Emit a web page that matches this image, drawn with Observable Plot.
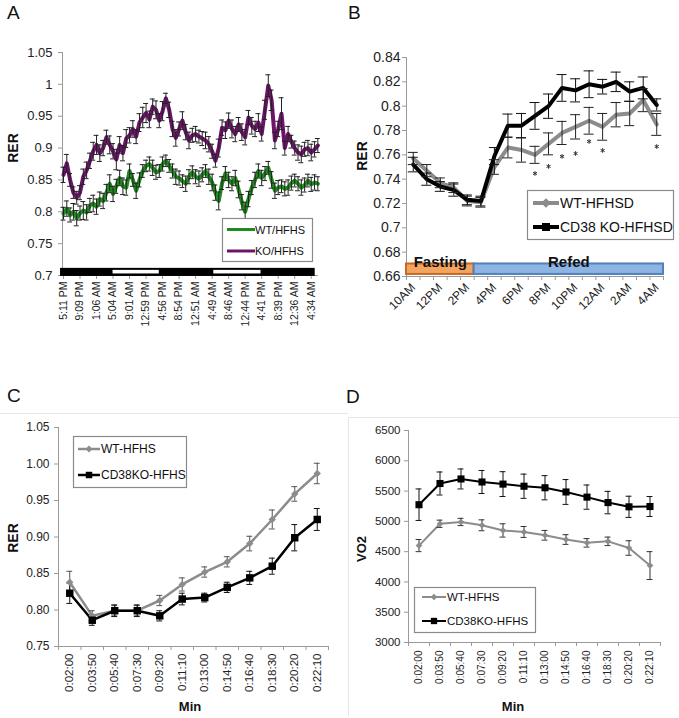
<!DOCTYPE html>
<html><head><meta charset="utf-8">
<script src="https://cdn.jsdelivr.net/npm/d3@7"></script>
<script src="https://cdn.jsdelivr.net/npm/@observablehq/plot@0.6"></script>
<style>
body{margin:0;background:#fff;}
#root{position:relative;width:679px;height:718px;overflow:hidden;background:#fff;}
</style></head>
<body><div id="root"></div>
<script>
// ---------- Panel A data ----------
const aXTickIdx = [0,5,10,15,20,25,30,35,40,45,50,55,60,65,70,75];
const aXLabels = ["5:11 PM","9:09 PM","1:06 AM","5:04 AM","9:01 AM","12:59 PM","4:56 PM","8:54 PM","12:51 AM","4:49 AM","8:46 AM","12:44 PM","4:41 PM","8:39 PM","12:36 AM","4:34 AM"];
const aYTicks = [0.7,0.75,0.8,0.85,0.9,0.95,1,1.05];
const aWT = [
0.797,0.805,0.795,0.8,0.79,0.798,0.802,0.799,0.81,0.813,
0.808,0.82,0.817,0.83,0.844,0.828,0.84,0.853,0.84,0.838,
0.864,0.85,0.833,0.85,0.864,0.872,0.875,0.869,0.862,0.864,
0.875,0.88,0.872,0.864,0.855,0.853,0.848,0.844,0.855,0.862,
0.855,0.852,0.858,0.864,0.855,0.846,0.83,0.817,0.845,0.86,
0.85,0.844,0.853,0.835,0.815,0.8,0.82,0.838,0.85,0.864,
0.853,0.86,0.869,0.85,0.833,0.838,0.84,0.836,0.838,0.845,
0.849,0.844,0.838,0.842,0.849,0.843,0.846,0.844];
const aWTerr = [
0.01,0.012,0.011,0.013,0.012,0.011,0.014,0.012,0.011,0.013,
0.012,0.011,0.012,0.013,0.014,0.012,0.011,0.012,0.013,0.012,
0.011,0.01,0.012,0.011,0.01,0.009,0.011,0.012,0.011,0.01,
0.011,0.009,0.01,0.011,0.012,0.011,0.01,0.012,0.011,0.01,
0.011,0.012,0.011,0.01,0.012,0.013,0.012,0.014,0.01,0.011,
0.012,0.011,0.012,0.013,0.012,0.015,0.012,0.011,0.012,0.011,
0.012,0.011,0.01,0.013,0.012,0.011,0.01,0.011,0.012,0.011,
0.01,0.011,0.012,0.011,0.01,0.011,0.012,0.011];
const aKO = [
0.858,0.876,0.85,0.83,0.822,0.83,0.855,0.865,0.88,0.895,
0.905,0.892,0.9,0.917,0.905,0.895,0.882,0.905,0.892,0.915,
0.92,0.93,0.918,0.94,0.948,0.955,0.945,0.965,0.96,0.943,
0.958,0.978,0.96,0.93,0.916,0.93,0.943,0.925,0.912,0.92,
0.922,0.918,0.915,0.912,0.906,0.895,0.88,0.9,0.932,0.928,
0.943,0.93,0.922,0.937,0.925,0.917,0.948,0.935,0.93,0.94,
0.922,0.96,0.998,0.975,0.912,0.93,0.954,0.9,0.922,0.91,
0.9,0.893,0.89,0.898,0.9,0.893,0.898,0.904];
const aKOerr = [
0.012,0.014,0.01,0.009,0.01,0.011,0.012,0.013,0.012,0.014,
0.015,0.013,0.012,0.011,0.014,0.012,0.016,0.013,0.012,0.014,
0.012,0.013,0.011,0.014,0.016,0.015,0.013,0.012,0.014,0.011,
0.015,0.008,0.012,0.012,0.013,0.011,0.014,0.012,0.013,0.011,
0.012,0.01,0.011,0.013,0.012,0.011,0.01,0.014,0.012,0.013,
0.012,0.014,0.012,0.011,0.013,0.012,0.011,0.013,0.012,0.014,
0.011,0.015,0.017,0.016,0.013,0.012,0.025,0.011,0.012,0.01,
0.011,0.012,0.013,0.011,0.012,0.013,0.012,0.011];
const aRecording = [[-0.9, 76.2]];
const aLightPhases = [[15, 29], [45.5, 59.8]];

// ---------- Panel B data ----------
const bLabels = ["10AM","12PM","2PM","4PM","6PM","8PM","10PM","12AM","2AM","4AM"];
const bLabelIdx = [0,2,4,6,8,10,12,14,16,18];
const bYTicks = [0.66,0.68,0.7,0.72,0.74,0.76,0.78,0.8,0.82,0.84];
const bWT = [0.757,0.747,0.737,0.733,0.722,0.721,0.750,0.766,0.764,0.760,0.769,0.778,0.783,0.788,0.783,0.793,0.794,0.805,0.785];
const bWTerr = [0.005,0.005,0.004,0.004,0.004,0.004,0.006,0.0085,0.01,0.007,0.009,0.0095,0.01,0.011,0.011,0.01,0.01,0.0095,0.009];
const bKO = [0.752,0.740,0.734,0.731,0.723,0.722,0.759,0.784,0.784,0.792,0.800,0.815,0.813,0.818,0.816,0.820,0.812,0.815,0.801];
const bKOerr = [0.006,0.005,0.004,0.005,0.004,0.004,0.007,0.0095,0.01,0.011,0.01,0.011,0.0095,0.011,0.006,0.008,0.008,0.009,0.005];
const bStarIdx = [9,10,11,12,13,14,18];
const bStarVal = [0.7447,0.7505,0.7587,0.7611,0.771,0.7636,0.7668];
const bPhases = [{label:"Fasting", start:-0.5, end:4.5}, {label:"Refed", start:4.5, end:18.5}];

// ---------- Panel C data ----------
const cLabels = ["0:02:00","0:03:50","0:05:40","0:07:30","0:09:20","0:11:10","0:13:00","0:14:50","0:16:40","0:18:30","0:20:20","0:22:10"];
const cYTicks = [0.75,0.8,0.85,0.9,0.95,1.0,1.05];
const cWT = [0.838,0.792,0.799,0.799,0.813,0.835,0.852,0.866,0.891,0.924,0.959,0.987];
const cWTerr = [0.015,0.007,0.007,0.007,0.007,0.009,0.007,0.007,0.01,0.013,0.01,0.014];
const cKO = [0.823,0.786,0.799,0.799,0.792,0.815,0.817,0.831,0.844,0.860,0.899,0.924];
const cKOerr = [0.014,0.007,0.008,0.008,0.007,0.008,0.006,0.007,0.009,0.011,0.018,0.015];

// ---------- Panel D data ----------
const dLabels = cLabels;
const dYTicks = [3000,3500,4000,4500,5000,5500,6000,6500];
const dWT = [4600,4960,4990,4935,4850,4825,4770,4700,4645,4670,4560,4270];
const dWTerr = [100,60,60,90,110,90,80,80,70,70,120,230];
const dKO = [5275,5625,5700,5650,5615,5580,5555,5485,5400,5310,5240,5245];
const dKOerr = [260,190,165,190,205,200,200,205,200,185,175,165];

// ---------- helpers ----------
const FONT = "'Liberation Sans', Arial, Helvetica, sans-serif";
const GRAY = "#8c8c8c", GREEN = "#1f8a1f", PURPLE = "#6b1468", AXIS = "#9a9a9a";
const rows = (vals, errs) => vals.map((v, i) => ({i, v, lo: v - errs[i], hi: v + errs[i]}));
function errorBars(data, color, half, sw = 1) {
  return [
    Plot.ruleX(data, {x: "i", y1: "lo", y2: "hi", stroke: color, strokeWidth: sw}),
    Plot.ruleY(data, {y: "hi", x1: d => d.i - half, x2: d => d.i + half, stroke: color, strokeWidth: sw}),
    Plot.ruleY(data, {y: "lo", x1: d => d.i - half, x2: d => d.i + half, stroke: color, strokeWidth: sw})
  ];
}
const root = document.getElementById("root");
function place(el, left, top) {
  el.style.position = "absolute"; el.style.left = left + "px"; el.style.top = top + "px";
  root.appendChild(el);
}
const baseStyle = {fontFamily: FONT, overflow: "visible", background: "transparent", color: "#222"};

// ---------- Panel A ----------
const aW = rows(aWT, aWTerr), aK = rows(aKO, aKOerr);
const aMap = new Map(aXTickIdx.map((d, i) => [d, aXLabels[i]]));
const plotA = Plot.plot({
  width: 340, height: 345, marginLeft: 62, marginRight: 22, marginTop: 52, marginBottom: 70,
  x: {domain: [-0.3, 77.2]}, y: {domain: [0.7, 1.05]},
  style: baseStyle,
  marks: [
    Plot.ruleX([-0.3], {stroke: AXIS}),
    Plot.ruleY([0.7], {stroke: AXIS}),
    Plot.axisY({ticks: aYTicks, tickFormat: d3.format(".2~f"), tickSize: 4, tickPadding: 6, fontSize: 13, stroke: AXIS, fill: "#222", label: null}),
    Plot.axisX({ticks: aXTickIdx, tickFormat: d => aMap.get(d), tickRotate: -90, tickSize: 4, tickPadding: 2, fontSize: 10.5, stroke: AXIS, fill: "#222", label: null}),
    Plot.line(aW, {x: "i", y: "v", stroke: GREEN, strokeWidth: 4}),
    Plot.line(aK, {x: "i", y: "v", stroke: PURPLE, strokeWidth: 4}),
    ...errorBars(aW, "#222", 0.75),
    ...errorBars(aK, "#222", 0.75),
    Plot.rect(aRecording, {x1: d => d[0], x2: d => d[1], y1: 0.6985, y2: 0.7112, fill: "#000"}),
    Plot.rect(aLightPhases, {x1: d => d[0], x2: d => d[1], y1: 0.6985, y2: 0.7112, fill: "#fff", insetTop: 2, insetBottom: 2.5})
  ]
});
place(plotA, 0, 0);

// ---------- Panel B ----------
const bW = rows(bWT, bWTerr), bK = rows(bKO, bKOerr);
const bMap = new Map(bLabelIdx.map((d, i) => [d, bLabels[i]]));
const bStars = bStarIdx.map((d, i) => ({i: d, v: bStarVal[i]}));
const phaseFill = {Fasting: "#f4a45e", Refed: "#8db4e2"};
const phaseStroke = {Fasting: "#c46a25", Refed: "#4f81bd"};
const plotB = Plot.plot({
  width: 339, height: 345, marginLeft: 66, marginRight: 16, marginTop: 57, marginBottom: 69,
  x: {domain: [-0.5, 18.5]}, y: {domain: [0.66, 0.84]},
  style: baseStyle,
  marks: [
    Plot.ruleX([-0.5], {stroke: AXIS}),
    Plot.ruleY([0.66], {stroke: AXIS}),
    Plot.axisY({ticks: bYTicks, tickFormat: d3.format(".2~f"), tickSize: 4, tickPadding: 2, fontSize: 14, stroke: AXIS, fill: "#222", label: null}),
    Plot.axisX({ticks: d3.range(-0.5, 19, 1), tickFormat: () => "", tickSize: 4, stroke: AXIS, label: null}),
    Plot.axisX({ticks: bLabelIdx, tickFormat: d => bMap.get(d), tickRotate: -45, tickSize: 0, tickPadding: 9, fontSize: 12, fill: "#222", label: null}),
    Plot.rect(bPhases, {x1: "start", x2: "end", y1: 0.6617, y2: 0.6703, fill: d => phaseFill[d.label], stroke: d => phaseStroke[d.label], strokeWidth: 2}),
    Plot.text(bPhases, {x: d => (d.start + d.end) / 2, y: 0.6703, text: "label", fontWeight: "bold", fontSize: 15, lineAnchor: "bottom", dy: 3, fill: "#111"}),
    Plot.line(bW, {x: "i", y: "v", stroke: GRAY, strokeWidth: 4}),
    Plot.line(bK, {x: "i", y: "v", stroke: "#000", strokeWidth: 4}),
    ...errorBars(bW, "#222", 0.37),
    ...errorBars(bK, "#111", 0.37),
    Plot.dot(bStars, {x: "i", y: "v", symbol: "asterisk", r: 2.2, stroke: "#333", strokeWidth: 1})
  ]
});
place(plotB, 340, 0);

// ---------- Panel C ----------
const cW = rows(cWT, cWTerr), cK = rows(cKO, cKOerr);
const plotC = Plot.plot({
  width: 340, height: 358, marginLeft: 58, marginRight: 12, marginTop: 67, marginBottom: 72,
  x: {domain: [-0.5, 11.5]}, y: {domain: [0.75, 1.05]},
  style: baseStyle,
  marks: [
    Plot.ruleX([-0.5], {stroke: AXIS}),
    Plot.ruleY([0.75], {stroke: AXIS}),
    Plot.axisY({ticks: cYTicks, tickFormat: d3.format(".2f"), tickSize: 4, tickPadding: 5, fontSize: 12, stroke: AXIS, fill: "#222", label: null}),
    Plot.axisX({ticks: d3.range(-0.5, 12, 1), tickFormat: () => "", tickSize: 4, stroke: AXIS, label: null}),
    Plot.axisX({ticks: d3.range(0, 12), tickFormat: d => cLabels[d], tickRotate: -90, tickSize: 0, tickPadding: 7, fontSize: 11.5, fill: "#222", label: null}),
    Plot.line(cW, {x: "i", y: "v", stroke: GRAY, strokeWidth: 2.5}),
    Plot.line(cK, {x: "i", y: "v", stroke: "#000", strokeWidth: 2.5}),
    ...errorBars(cW, "#555", 0.13),
    ...errorBars(cK, "#111", 0.13),
    Plot.dot(cW, {x: "i", y: "v", symbol: "diamond2", r: 3.3, fill: GRAY, stroke: "none"}),
    Plot.dot(cK, {x: "i", y: "v", symbol: "square", r: 4.2, fill: "#000", stroke: "none"})
  ]
});
place(plotC, 0, 360);

// ---------- Panel D ----------
const dW = rows(dWT, dWTerr), dK = rows(dKO, dKOerr);
const plotD = Plot.plot({
  width: 339, height: 358, marginLeft: 68, marginRight: 19, marginTop: 70, marginBottom: 76,
  x: {domain: [-0.5, 11.5]}, y: {domain: [3000, 6500]},
  style: baseStyle,
  marks: [
    Plot.ruleX([-0.5], {stroke: AXIS}),
    Plot.ruleY([3000], {stroke: AXIS}),
    Plot.axisY({ticks: dYTicks, tickFormat: d3.format("d"), tickSize: 4, tickPadding: 4, fontSize: 11.5, stroke: AXIS, fill: "#222", label: null}),
    Plot.axisX({ticks: d3.range(-0.5, 12, 1), tickFormat: () => "", tickSize: 4, stroke: AXIS, label: null}),
    Plot.axisX({ticks: d3.range(0, 12), tickFormat: d => dLabels[d], tickRotate: -90, tickSize: 0, tickPadding: 8, fontSize: 10, fill: "#222", label: null}),
    Plot.line(dW, {x: "i", y: "v", stroke: GRAY, strokeWidth: 2}),
    Plot.line(dK, {x: "i", y: "v", stroke: "#000", strokeWidth: 2}),
    ...errorBars(dW, "#333", 0.14),
    ...errorBars(dK, "#111", 0.14),
    Plot.dot(dW, {x: "i", y: "v", symbol: "diamond2", r: 3, fill: GRAY, stroke: "none"}),
    Plot.dot(dK, {x: "i", y: "v", symbol: "square", r: 4, fill: "#000", stroke: "none"})
  ]
});
place(plotD, 340, 360);

// ---------- overlay: panel letters, titles, legends, frames ----------
const ov = d3.create("svg").attr("width", 679).attr("height", 718)
  .style("position", "absolute").style("left", "0px").style("top", "0px")
  .style("font-family", FONT).style("pointer-events", "none");
ov.append("line").attr("x1", 0).attr("x2", 348).attr("y1", 413.5).attr("y2", 413.5).attr("stroke", "#e6e6e6");
ov.append("line").attr("x1", 348).attr("x2", 679).attr("y1", 417.5).attr("y2", 417.5).attr("stroke", "#e6e6e6");
ov.append("line").attr("x1", 348.5).attr("x2", 348.5).attr("y1", 417).attr("y2", 716).attr("stroke", "#e6e6e6");

function text(x, y, s, size, opts = {}) {
  const t = ov.append("text").attr("x", x).attr("y", y).text(s)
    .attr("font-size", size).attr("fill", opts.fill || "#111");
  if (opts.bold) t.attr("font-weight", "bold");
  if (opts.anchor) t.attr("text-anchor", opts.anchor);
  if (opts.baseline) t.attr("dominant-baseline", opts.baseline);
  if (opts.rotate) t.attr("transform", `rotate(${opts.rotate},${x},${y})`);
  return t;
}
text(7, 19, "A", 19);
text(348, 19, "B", 19);
text(7, 402, "C", 19);
text(346, 403, "D", 19);
text(13, 148, "RER", 14, {bold: true, anchor: "middle", baseline: "central", rotate: -90});
text(362, 156, "RER", 14, {bold: true, anchor: "middle", baseline: "central", rotate: -90});
text(13, 538, "RER", 14, {bold: true, anchor: "middle", baseline: "central", rotate: -90});
text(361, 549, "VO2", 13, {bold: true, anchor: "middle", baseline: "central", rotate: -90});
text(190, 706, "Min", 13, {bold: true, anchor: "middle", baseline: "central"});
text(513, 706, "Min", 13, {bold: true, anchor: "middle", baseline: "central"});

function box(x, y, w, h) {
  ov.append("rect").attr("x", x + 0.5).attr("y", y + 0.5).attr("width", w).attr("height", h)
    .attr("fill", "#fff").attr("stroke", "#8a8a8a").attr("stroke-width", 1.2);
}
function entry(x1, x2, y, color, width, symbol, size, label, fs, tx) {
  ov.append("line").attr("x1", x1).attr("x2", x2).attr("y1", y).attr("y2", y)
    .attr("stroke", color).attr("stroke-width", width);
  if (symbol) {
    ov.append("path").attr("d", d3.symbol(symbol, size)())
      .attr("transform", `translate(${(x1 + x2) / 2},${y})`).attr("fill", color);
  }
  text(tx, y, label, fs, {baseline: "central", fill: "#111"});
}
box(222, 218, 90, 43);
entry(227, 255, 229.5, GREEN, 3, null, 0, "WT/HFHS", 11, 255);
entry(227, 255, 251, PURPLE, 3, null, 0, "KO/HFHS", 11, 255);
box(527, 190, 146, 49);
entry(533, 559, 203, GRAY, 4, d3.symbolDiamond2, 60, "WT-HFHSD", 14, 560);
entry(533, 559, 227, "#000", 4, d3.symbolSquare, 64, "CD38 KO-HFHSD", 14, 560);
box(73, 436, 113, 51);
entry(78, 100, 449, GRAY, 2.5, d3.symbolDiamond2, 30, "WT-HFHS", 12, 101);
entry(78, 100, 475, "#000", 2.5, d3.symbolSquare, 42, "CD38KO-HFHS", 12, 101);
box(414, 587, 121, 45);
entry(422, 446, 597, GRAY, 2, d3.symbolDiamond2, 28, "WT-HFHS", 11.5, 447);
entry(422, 446, 621, "#000", 2, d3.symbolSquare, 40, "CD38KO-HFHS", 11.5, 447);

root.appendChild(ov.node());
</script>
</body></html>
